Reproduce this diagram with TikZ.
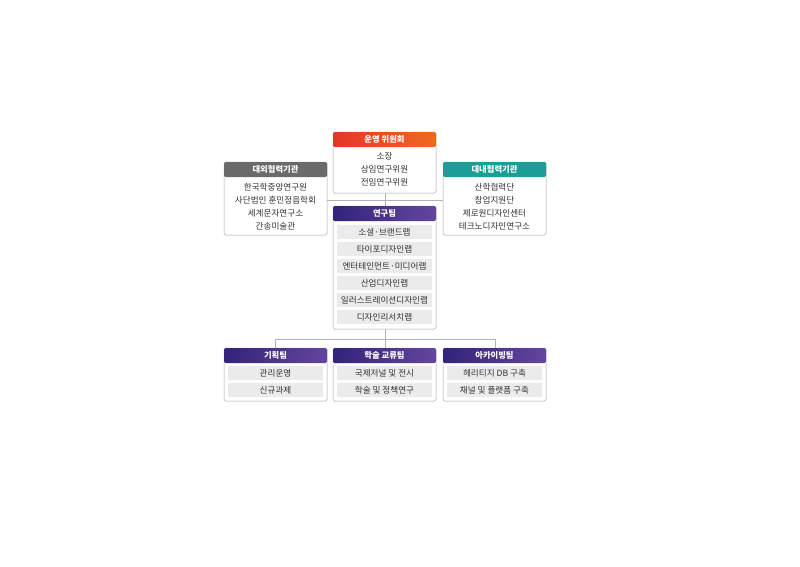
\documentclass[tikz,border=0pt]{standalone}
\usepackage{fontspec}
\setmainfont{Noto Sans CJK KR}
\begin{document}
\begin{tikzpicture}[x=1pt,y=-1pt,
  box/.style={draw=gray!70,rounded corners=1.5pt,fill=white,line width=0.5pt},
  hd/.style={text=white,font=\fontsize{8.3}{9}\selectfont\bfseries},
  tx/.style={font=\fontsize{8.6}{9}\selectfont,text=black!80},
  row/.style={fill=black!8},
  ln/.style={draw=gray!60,line width=0.5pt}]
\useasboundingbox (0,0) rectangle (800,566);
\definecolor{purA}{HTML}{33237A}\definecolor{purB}{HTML}{64469E}
\definecolor{oraA}{HTML}{E4352A}\definecolor{oraB}{HTML}{EE6A1E}
\definecolor{teal}{HTML}{1C9E96}\definecolor{dgray}{HTML}{6A6A6A}
% connectors
\coordinate (hl) at (327,200); \coordinate (hr) at (443,200);
\draw[ln] (hl) -- (hr);
\draw[ln] (385,193) -- (385,206);
\coordinate (b1) at (275,339); \coordinate (b3) at (495,339);
\draw[ln] (385,329) -- (385,339);
\draw[ln] (275,348) -- (b1) -- (b3) -- (495,348);
\draw[ln] (385,339) -- (385,348);
% top
\draw[box] (333,132) rectangle (436,193);
\shade[left color=oraA,right color=oraB,rounded corners=1.5pt] (333,132) rectangle (436,147);
\node[hd] (t1) at (384.5,139.5) {운영 위원회};
\node[tx] (t1a) at (384.5,156) {소장};
\node[tx] (t1b) at (384.5,169) {상임연구위원};
\node[tx] (t1c) at (384.5,182) {전임연구위원};
% left
\draw[box] (224,162) rectangle (327,235);
\fill[dgray,rounded corners=1.5pt] (224,162) rectangle (327,177);
\node[hd] (l1) at (275.5,169.5) {대외협력기관};
\foreach \t[count=\i] in {한국학중앙연구원,사단법인 훈민정음학회,세계문자연구소,간송미술관}
  \node[tx] (l\i x) at (275.5,174+13*\i) {\t};
% right
\draw[box] (443,162) rectangle (546,235);
\fill[teal,rounded corners=1.5pt] (443,162) rectangle (546,177);
\node[hd] (r1) at (494.5,169.5) {대내협력기관};
\foreach \t[count=\i] in {산학협력단,창업지원단,제로원디자인센터,테크노디자인연구소}
  \node[tx] (r\i x) at (494.5,174+13*\i) {\t};
% research
\draw[box] (333,206) rectangle (436,329);
\shade[left color=purA,right color=purB,rounded corners=1.5pt] (333,206) rectangle (436,221);
\node[hd] (m1) at (384.5,213.5) {연구팀};
\foreach \t[count=\i] in {소셜·브랜드랩,타이포디자인랩,엔터테인먼트·미디어랩,산업디자인랩,일러스트레이션디자인랩,디자인리서치랩}{
  \fill[row] (337,{225+17*(\i-1)}) rectangle (432,{239+17*(\i-1)});
  \node[tx] (m\i x) at (384.5,{232+17*(\i-1)}) {\t};}
% bottom
\foreach \x/\h/\a/\b/\n in {224/기획팀/관리운영/신규과제/p,333/학술 교류팀/국제저널 및 전시/학술 및 정책연구/q,443/아카이빙팀/헤리티지 DB 구축/채널 및 플랫폼 구축/s}{
  \draw[box] (\x,348) rectangle (\x+103,401);
  \shade[left color=purA,right color=purB,rounded corners=1.5pt] (\x,348) rectangle (\x+103,363);
  \node[hd] (\n h) at (\x+51.5,355.5) {\h};
  \fill[row] (\x+4,366) rectangle (\x+99,380);
  \fill[row] (\x+4,383) rectangle (\x+99,397);
  \node[tx] (\n a) at (\x+51.5,373) {\a};
  \node[tx] (\n b) at (\x+51.5,390) {\b};}
\end{tikzpicture}
\end{document}
